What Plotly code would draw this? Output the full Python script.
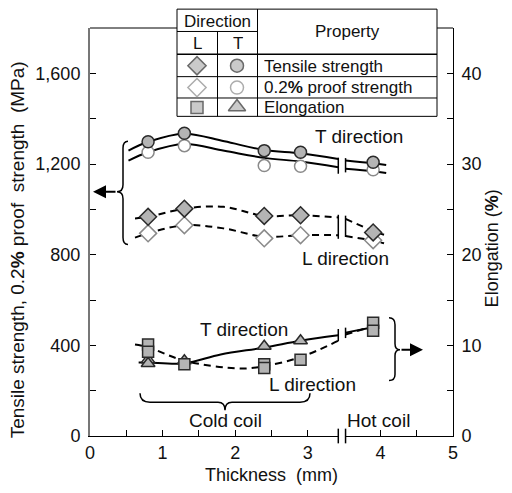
import plotly.graph_objects as go

# ---- measured values -------------------------------------------------------
thickness = [0.8, 1.3, 2.4, 2.9, 3.9]            # mm
tensile_T = [1298, 1336, 1259, 1252, 1208]       # MPa
proof_T = [1252, 1281, 1193, 1190, 1175]
tensile_L = [967, 1003, 971, 974, 898]
proof_L = [894, 930, 872, 886, 864]

elong_thk_L = [0.8, 0.8, 1.3, 2.4, 2.4, 2.9, 3.9, 3.9]
elong_L = [10.1, 9.3, 7.9, 7.9, 7.5, 8.4, 12.5, 11.6]   # %
elong_thk_T = [0.8, 0.8, 1.3, 2.4, 2.9]
elong_T = [8.4, 8.0, 8.3, 9.9, 10.5]

# trend curves (cold-coil part / hot-coil part)
trend_tensile_T = ([0.53, 0.8, 1.3, 1.85, 2.4, 2.9, 3.42], [1259, 1298, 1334, 1300, 1262, 1247, 1222],
                   [3.52, 3.9, 4.08], [1215, 1203, 1196])
trend_proof_T = ([0.53, 0.8, 1.3, 1.85, 2.4, 2.9, 3.42], [1215, 1252, 1288, 1258, 1227, 1211, 1186],
                 [3.52, 3.9, 4.08], [1179, 1168, 1160])
trend_tensile_L = ([0.62, 0.8, 1.3, 1.84, 2.4, 2.9, 3.42], [960, 967, 1003, 1011, 971, 974, 964],
                   [3.52, 3.9, 4.05], [958, 905, 888])
trend_proof_L = ([0.62, 0.8, 1.3, 1.84, 2.4, 2.9, 3.42], [875, 894, 930, 916, 879, 886, 886],
                 [3.52, 3.9, 4.05], [882, 862, 850])
trend_elong_T = ([0.67, 0.8, 1.3, 1.8, 2.4, 2.9, 3.42], [8.1, 8.1, 8.0, 9.0, 9.75, 10.5, 11.1],
                 [3.52, 3.9], [11.4, 12.0])
trend_elong_L = ([0.62, 0.8, 1.3, 2.07, 2.4, 2.9, 3.42], [10.1, 9.8, 8.3, 7.45, 7.7, 8.7, 10.5],
                 [3.52, 3.9], [11.2, 12.1])

x_ticks = [0, 1, 2, 3, 4, 5]
y_ticks = [0, 400, 800, 1200, 1600]
y2_ticks = [0, 10, 20, 30, 40]
BREAK = (3.42, 3.52)

# ---- geometry helpers (pixel -> paper / data) ------------------------------
W, H = 512, 493
L, R, T, B = 90, 453, 28, 439
XMAX, YMAX, Y2MAX = 5, 1800, 45


def px(x):
    return (x - L) / (R - L)


def py(y):
    return (B - y) / (B - T)


def dx(x):
    return (x - L) / (R - L) * XMAX


def dy(y):
    return (B - y) / (B - T) * YMAX


FONT = "Liberation Sans, Arial, sans-serif"
FS = 18
GRAY = "#b4b4b4"
EDGE = "#2a2a2a"
OPEN_EDGE = "#8a8a8a"

fig = go.Figure()


def trend(curve, dash, yaxis="y"):
    xa, ya, xb, yb = curve
    for xs, ys in ((xa, ya), (xb, yb)):
        fig.add_trace(go.Scatter(
            x=xs, y=ys, mode="lines", yaxis=yaxis, showlegend=False, hoverinfo="skip",
            line=dict(color="black", width=2, dash=dash, shape="spline", smoothing=1.0)))


DASH = "7px,5px"
trend(trend_tensile_T, "solid")
trend(trend_proof_T, "solid")
trend(trend_tensile_L, DASH)
trend(trend_proof_L, DASH)
trend(trend_elong_T, "solid", "y2")
trend(trend_elong_L, DASH, "y2")


def markers(x, y, symbol, filled, yaxis="y", size=12):
    fig.add_trace(go.Scatter(
        x=x, y=y, mode="markers", yaxis=yaxis, showlegend=False, cliponaxis=False,
        marker=dict(symbol=symbol, size=size,
                    color=GRAY if filled else "white",
                    line=dict(color=EDGE if filled else OPEN_EDGE, width=1.5))))


markers(thickness, proof_L, "diamond", False, size=13)
markers(thickness, tensile_L, "diamond", True, size=13)
markers(thickness, proof_T, "circle", False, size=12)
markers(thickness, tensile_T, "circle", True, size=12)
markers(elong_thk_T, elong_T, "triangle-up", True, "y2", size=12)
markers(elong_thk_L, elong_L, "square", True, "y2", size=11)

shapes = []

# top frame line, interrupted by the property table
for x0, x1 in ((L, 177), (437, R)):
    shapes.append(dict(type="line", xref="paper", yref="paper", x0=px(x0), x1=px(x1),
                       y0=1, y1=1, line=dict(color="black", width=1)))

# axis break on the thickness axis
shapes.append(dict(type="rect", xref="x", yref="paper", x0=BREAK[0], x1=BREAK[1],
                   y0=-0.02, y1=0.02, fillcolor="white", line=dict(width=0), layer="above"))
for xb in BREAK:
    shapes.append(dict(type="line", xref="x", yref="paper", x0=xb, x1=xb, y0=-0.018, y1=0.018,
                       line=dict(color="black", width=1.5), layer="above"))

# break marks on the curves
for xb, lo, hi in ((BREAK[0], 1157, 1228), (BREAK[1], 1163, 1226),
                   (BREAK[0], 870, 976), (BREAK[1], 878, 972),
                   (BREAK[0], 418, 472), (BREAK[1], 432, 478)):
    shapes.append(dict(type="line", xref="x", yref="y", x0=xb, x1=xb, y0=lo, y1=hi,
                       line=dict(color="black", width=1.5)))


def path(points, cmd):
    out = []
    for c, pts in zip(cmd, points):
        out.append(c + " ".join(f"{dx(a):.4f},{dy(b):.2f}" for a, b in pts))
    return " ".join(out)


# braces
brace_left = path([[(128, 142)], [(123, 142), (123, 149)], [(123, 186)],
                   [(123, 193), (117, 193)], [(123, 193), (123, 200)], [(123, 239)],
                   [(123, 246), (128, 246)]], ["M", "Q", "L", "Q", "Q", "L", "Q"])
brace_right = path([[(389, 320)], [(395, 320), (395, 327)], [(395, 346)],
                    [(395, 352), (400, 352)], [(395, 352), (395, 358)], [(395, 377)],
                    [(395, 383), (389, 383)]], ["M", "Q", "L", "Q", "Q", "L", "Q"])
brace_cold = path([[(140, 396)], [(140, 405), (150, 405)], [(218, 405)],
                   [(225, 405), (225, 413)], [(225, 405), (232, 405)], [(300, 405)],
                   [(310, 405), (310, 396)]], ["M", "Q", "L", "Q", "Q", "L", "Q"])
for p in (brace_left, brace_right, brace_cold):
    shapes.append(dict(type="path", xref="x", yref="y", path=p,
                       line=dict(color="black", width=1.5)))

# property table (drawn under the traces so its symbols show on top)
tl, tr, tt, tb = 177, 437, 9, 117
c1, c2 = 217.5, 257.5
r1, r2, r3, r4 = 31.5, 54.5, 77, 98.5
shapes.append(dict(type="rect", xref="paper", yref="paper", x0=px(tl), x1=px(tr),
                   y0=py(tb), y1=py(tt), fillcolor="white", line=dict(color="black", width=1),
                   layer="below"))
for (x0, y0, x1, y1, w) in ((tl, r1, c2, r1, 1), (tl, r2, tr, r2, 1.5), (tl, r3, tr, r3, 1),
                             (tl, r4, tr, r4, 1), (c1, r1, c1, tb, 1), (c2, tt, c2, tb, 1)):
    shapes.append(dict(type="line", xref="paper", yref="paper", x0=px(x0), x1=px(x1),
                       y0=py(y0), y1=py(y1), line=dict(color="black", width=w), layer="below"))

# table symbols on a hidden pixel-scaled axis pair
sym_x = [197, 237, 197, 237, 197, 237]
sym_y = [66, 66, 88, 88, 108, 107.5]
sym_shape = ["diamond", "circle", "diamond", "circle", "square", "triangle-up"]
sym_fill = [GRAY, GRAY, "white", "white", GRAY, GRAY]
sym_edge = [EDGE, EDGE, OPEN_EDGE, OPEN_EDGE, EDGE, EDGE]
sym_size = [14, 13, 14, 13, 12, 15]
fig.add_trace(go.Scatter(
    x=sym_x, y=sym_y, mode="markers", xaxis="x2", yaxis="y3", showlegend=False,
    cliponaxis=False, hoverinfo="skip",
    marker=dict(symbol=sym_shape, size=sym_size, color=sym_fill,
                line=dict(color=sym_edge, width=1.5))))

annotations = []


def text(s, x, y, xanchor="left", xref="x", yref="y", size=19, height=None, angle=0):
    a = dict(text=s, x=x, y=y, xref=xref, yref=yref, xanchor=xanchor,
             yanchor="middle", showarrow=False, textangle=angle,
             font=dict(family=FONT, size=size, color="#111"))
    if height:
        a["height"] = height
    annotations.append(a)


TS = 17
RH = 20
text("Direction", px((tl + c2) / 2), py(20.5), "center", "paper", "paper", TS, RH)
text("L", px((tl + c1) / 2), py(43), "center", "paper", "paper", TS, RH)
text("T", px((c1 + c2) / 2), py(43), "center", "paper", "paper", TS, RH)
text("Property", px((c2 + tr) / 2), py(31.5), "center", "paper", "paper", TS, RH)
text("Tensile strength", px(262), py(66), "left", "paper", "paper", TS, RH)
text("0.2<b>%</b> proof strength", px(262), py(87.5), "left", "paper", "paper", TS, RH)
text("Elongation", px(262), py(108), "left", "paper", "paper", TS, RH)

text("T direction", dx(313), dy(137))
text("L direction", dx(300), dy(260))
text("T direction", dx(198), dy(332))
text("L direction", dx(267), dy(387))
text("Cold coil", dx(225), dy(423), "center")
text("Hot coil", dx(345), dy(423))

# axis titles for the two vertical axes
text("Tensile strength, 0.2<b>%</b> proof  strength  (MPa)", px(17), py(252), "center",
     "paper", "paper", 19, angle=-90)
text("Elongation (<b>%</b>)", px(492), py(250), "center", "paper", "paper", FS, angle=-90)

# arrows from the braces to the axes they refer to
for tip, tail in (((93, 193), (117, 193)), ((423, 352), (400, 352))):
    annotations.append(dict(x=dx(tip[0]), y=dy(tip[1]), ax=dx(tail[0]), ay=dy(tail[1]),
                            xref="x", yref="y", axref="x", ayref="y", text="",
                            showarrow=True, arrowhead=2, arrowsize=1.3, arrowwidth=2,
                            arrowcolor="black"))

fig.update_layout(
    width=W, height=H, margin=dict(l=L, r=W - R, t=T, b=H - B),
    paper_bgcolor="white", plot_bgcolor="white", showlegend=False,
    font=dict(family=FONT, size=FS, color="#111"),
    separators=".,",
    shapes=shapes, annotations=annotations,
    xaxis=dict(range=[0, XMAX], tickvals=x_ticks, ticks="inside", ticklen=6,
               minor=dict(dtick=0.5, ticks="inside", ticklen=6, tickcolor="black"),
               showline=True, linecolor="black", linewidth=1,
               showgrid=False, zeroline=False, tickcolor="black",
               title=dict(text="Thickness  (mm)", standoff=6, font=dict(size=FS))),
    yaxis=dict(range=[0, YMAX], tickvals=y_ticks, tickformat=",d", ticks="inside", ticklen=6,
               minor=dict(dtick=200, ticks="inside", ticklen=6, tickcolor="black"),
               showline=True, linecolor="#777", linewidth=2, showgrid=False, zeroline=False,
               tickcolor="black", ticklabelstandoff=4),
    yaxis2=dict(range=[0, Y2MAX], tickvals=y2_ticks, overlaying="y", side="right",
                ticks="inside", ticklen=6,
                minor=dict(dtick=5, ticks="inside", ticklen=6, tickcolor="black"),
                showline=True, linecolor="black", linewidth=1, showgrid=False, zeroline=False,
                tickcolor="black", ticklabelstandoff=4),
    xaxis2=dict(range=[L, R], overlaying="x", visible=False, fixedrange=True),
    yaxis3=dict(range=[B, T], overlaying="y", visible=False, fixedrange=True),
)

fig.write_html("out.html")
